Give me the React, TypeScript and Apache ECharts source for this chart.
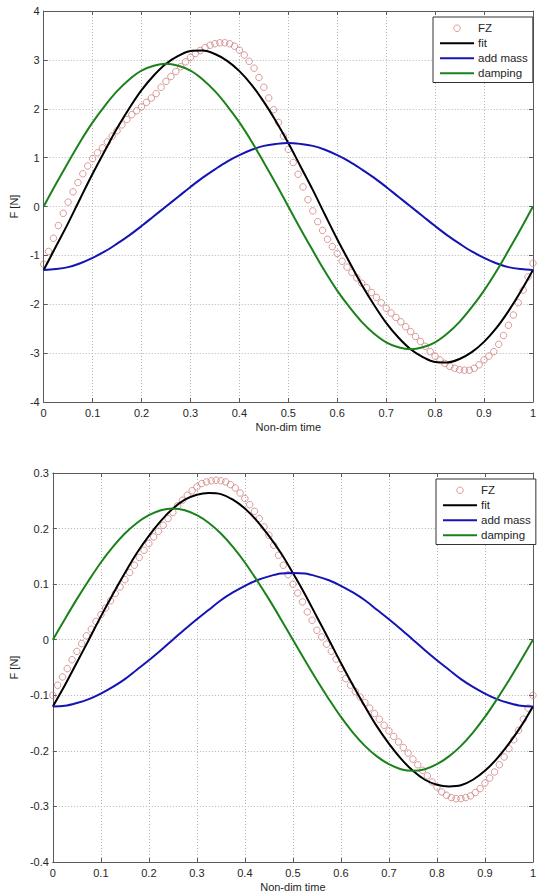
import React, { useEffect, useRef } from "react";
import * as echarts from "echarts";

// ---------- data ----------
const TIME_LINE = [0, 0.025, 0.05, 0.075, 0.1, 0.125, 0.15, 0.175, 0.2, 0.225, 0.25, 0.275, 0.3, 0.325, 0.35, 0.375, 0.4, 0.425, 0.45, 0.475, 0.5, 0.525, 0.55, 0.575, 0.6, 0.625, 0.65, 0.675, 0.7, 0.725, 0.75, 0.775, 0.8, 0.825, 0.85, 0.875, 0.9, 0.925, 0.95, 0.975, 1];

const TIME_FZ = [0, 0.01, 0.02, 0.03, 0.04, 0.05, 0.06, 0.07, 0.08, 0.09, 0.1, 0.11, 0.12, 0.13, 0.14, 0.15, 0.16, 0.17, 0.18, 0.19, 0.2, 0.21, 0.22, 0.23, 0.24, 0.25, 0.26, 0.27, 0.28, 0.29, 0.3, 0.31, 0.32, 0.33, 0.34, 0.35, 0.36, 0.37, 0.38, 0.39, 0.4, 0.41, 0.42, 0.43, 0.44, 0.45, 0.46, 0.47, 0.48, 0.49, 0.5, 0.51, 0.52, 0.53, 0.54, 0.55, 0.56, 0.57, 0.58, 0.59, 0.6, 0.61, 0.62, 0.63, 0.64, 0.65, 0.66, 0.67, 0.68, 0.69, 0.7, 0.71, 0.72, 0.73, 0.74, 0.75, 0.76, 0.77, 0.78, 0.79, 0.8, 0.81, 0.82, 0.83, 0.84, 0.85, 0.86, 0.87, 0.88, 0.89, 0.9, 0.91, 0.92, 0.93, 0.94, 0.95, 0.96, 0.97, 0.98, 0.99, 1];

// top panel
const TOP_FZ = [-1.18, -0.92, -0.65, -0.39, -0.14, 0.09, 0.30, 0.49, 0.67, 0.83, 0.98, 1.10, 1.20, 1.32, 1.44, 1.55, 1.67, 1.78, 1.88, 1.96, 2.04, 2.13, 2.22, 2.31, 2.44, 2.56, 2.66, 2.76, 2.86, 2.96, 3.05, 3.13, 3.19, 3.25, 3.30, 3.33, 3.35, 3.35, 3.33, 3.28, 3.20, 3.10, 2.97, 2.83, 2.64, 2.44, 2.22, 1.98, 1.72, 1.44, 1.17, 0.90, 0.66, 0.40, 0.14, -0.09, -0.31, -0.49, -0.67, -0.82, -0.96, -1.12, -1.24, -1.35, -1.46, -1.57, -1.66, -1.76, -1.86, -1.97, -2.08, -2.18, -2.27, -2.36, -2.46, -2.56, -2.66, -2.76, -2.86, -2.97, -3.06, -3.14, -3.21, -3.27, -3.31, -3.34, -3.35, -3.35, -3.31, -3.24, -3.14, -3.06, -2.97, -2.82, -2.64, -2.43, -2.22, -1.97, -1.71, -1.44, -1.16];
const TOP_FIT = [-1.30, -0.82, -0.34, 0.17, 0.67, 1.14, 1.60, 2.01, 2.38, 2.68, 2.92, 3.08, 3.18, 3.19, 3.12, 2.98, 2.77, 2.49, 2.14, 1.74, 1.30, 0.82, 0.34, -0.17, -0.67, -1.14, -1.60, -2.01, -2.38, -2.68, -2.92, -3.08, -3.18, -3.19, -3.12, -2.98, -2.77, -2.49, -2.14, -1.74, -1.30];
const TOP_ADD_MASS = [-1.30, -1.28, -1.24, -1.16, -1.05, -0.92, -0.76, -0.59, -0.40, -0.20, 0.00, 0.20, 0.40, 0.59, 0.76, 0.92, 1.05, 1.16, 1.24, 1.28, 1.30, 1.28, 1.24, 1.16, 1.05, 0.92, 0.76, 0.59, 0.40, 0.20, 0.00, -0.20, -0.40, -0.59, -0.76, -0.92, -1.05, -1.16, -1.24, -1.28, -1.30];
const TOP_DAMPING = [0, 0.46, 0.90, 1.33, 1.72, 2.06, 2.36, 2.60, 2.78, 2.88, 2.92, 2.88, 2.78, 2.60, 2.36, 2.06, 1.72, 1.33, 0.90, 0.46, 0, -0.46, -0.90, -1.33, -1.72, -2.06, -2.36, -2.60, -2.78, -2.88, -2.92, -2.88, -2.78, -2.60, -2.36, -2.06, -1.72, -1.33, -0.90, -0.46, 0];

// bottom panel
const BOT_FZ = [-0.100, -0.082, -0.067, -0.052, -0.036, -0.021, -0.007, 0.007, 0.019, 0.033, 0.045, 0.057, 0.070, 0.083, 0.095, 0.108, 0.121, 0.134, 0.148, 0.161, 0.173, 0.185, 0.195, 0.206, 0.218, 0.229, 0.241, 0.251, 0.260, 0.268, 0.275, 0.281, 0.284, 0.286, 0.287, 0.286, 0.284, 0.279, 0.273, 0.264, 0.254, 0.243, 0.231, 0.218, 0.203, 0.188, 0.170, 0.152, 0.134, 0.117, 0.100, 0.084, 0.068, 0.050, 0.035, 0.017, 0.005, -0.008, -0.021, -0.035, -0.052, -0.070, -0.082, -0.093, -0.103, -0.113, -0.123, -0.133, -0.143, -0.154, -0.164, -0.174, -0.184, -0.194, -0.204, -0.215, -0.225, -0.235, -0.245, -0.256, -0.265, -0.274, -0.280, -0.284, -0.286, -0.286, -0.284, -0.281, -0.275, -0.268, -0.258, -0.249, -0.238, -0.225, -0.211, -0.196, -0.180, -0.163, -0.143, -0.123, -0.100];
const BOT_FIT = [-0.120, -0.082, -0.041, 0.000, 0.042, 0.082, 0.120, 0.156, 0.187, 0.214, 0.236, 0.252, 0.261, 0.264, 0.262, 0.252, 0.236, 0.214, 0.187, 0.156, 0.120, 0.082, 0.041, 0.000, -0.042, -0.082, -0.120, -0.156, -0.187, -0.214, -0.236, -0.252, -0.261, -0.264, -0.262, -0.252, -0.236, -0.214, -0.187, -0.156, -0.120];
const BOT_ADD_MASS = [-0.120, -0.119, -0.114, -0.107, -0.097, -0.085, -0.071, -0.054, -0.037, -0.019, 0, 0.019, 0.037, 0.054, 0.071, 0.085, 0.097, 0.107, 0.114, 0.119, 0.120, 0.119, 0.114, 0.107, 0.097, 0.085, 0.071, 0.054, 0.037, 0.019, 0, -0.019, -0.037, -0.054, -0.071, -0.085, -0.097, -0.107, -0.114, -0.119, -0.120];
const BOT_DAMPING = [0, 0.037, 0.073, 0.107, 0.139, 0.167, 0.191, 0.210, 0.224, 0.233, 0.236, 0.233, 0.224, 0.210, 0.191, 0.167, 0.139, 0.107, 0.073, 0.037, 0, -0.037, -0.073, -0.107, -0.139, -0.167, -0.191, -0.210, -0.224, -0.233, -0.236, -0.233, -0.224, -0.210, -0.191, -0.167, -0.139, -0.107, -0.073, -0.037, 0];

const SERIES_NAMES = ["FZ", "fit", "add mass", "damping"];
const X_NAME = "Non-dim time";
const Y_NAME = "F [N]";
const TOP_Y = { min: -4, max: 4, interval: 1 };
const BOT_Y = { min: -0.4, max: 0.3, interval: 0.1 };

// ---------- styling ----------
const FONT = "'Liberation Sans', Arial, Helvetica, sans-serif";
const TEXT = "#262626";
const AXIS = "#5a5a5a";
const C_FZ = "#cc7474";
const C_FIT = "#000000";
const C_AM = "#1414b4";
const C_DAMP = "#1b821b";

const fmt = (v: number) => (Math.abs(v) < 1e-9 ? "0" : String(parseFloat(v.toFixed(2))));
const pairs = (xs: number[], ys: number[]) => xs.map((x, i) => [x, ys[i]]);

function xAxes(gridIndex: number) {
  const common = {
    type: "value", gridIndex, min: 0, max: 1, interval: 0.1,
    axisLine: { show: true, onZero: false, lineStyle: { color: AXIS, width: 1 } },
    axisTick: { show: true, inside: true, length: 4, lineStyle: { color: AXIS } },
  };
  return [
    {
      ...common, position: "bottom",
      axisLabel: { margin: 5, fontSize: 11, color: TEXT, fontFamily: FONT, formatter: fmt },
      splitLine: { show: true, lineStyle: { type: [1, 2], color: "#b4b4b4", width: 1 } },
      name: X_NAME, nameLocation: "middle", nameGap: 19,
      nameTextStyle: { fontSize: 11, color: TEXT, fontFamily: FONT },
    },
    { ...common, position: "top", axisLabel: { show: false }, splitLine: { show: false } },
  ];
}

function yAxes(gridIndex: number, r: { min: number; max: number; interval: number }, nameGap: number) {
  const common = {
    type: "value", gridIndex, min: r.min, max: r.max, interval: r.interval,
    axisLine: { show: true, onZero: false, lineStyle: { color: AXIS, width: 1 } },
    axisTick: { show: true, inside: true, length: 4, lineStyle: { color: AXIS } },
  };
  return [
    {
      ...common, position: "left",
      axisLabel: { margin: 4, fontSize: 11, color: TEXT, fontFamily: FONT, formatter: fmt },
      splitLine: { show: true, lineStyle: { type: [1, 2], color: "#b4b4b4", width: 1 } },
      name: Y_NAME, nameLocation: "middle", nameGap,
      nameTextStyle: { fontSize: 11, color: TEXT, fontFamily: FONT },
    },
    { ...common, position: "right", axisLabel: { show: false }, splitLine: { show: false } },
  ];
}

function seriesFor(axisIndex: number, fz: number[], fit: number[], am: number[], damp: number[]) {
  const line = (name: string, ys: number[], color: string) => ({
    name, type: "line", xAxisIndex: axisIndex, yAxisIndex: axisIndex,
    data: pairs(TIME_LINE, ys), showSymbol: false, symbol: "none", smooth: 0.35,
    lineStyle: { color, width: 2 }, itemStyle: { color },
  });
  return [
    {
      name: SERIES_NAMES[0], type: "scatter", xAxisIndex: axisIndex, yAxisIndex: axisIndex,
      data: pairs(TIME_FZ, fz), symbol: "circle", symbolSize: 6.5,
      itemStyle: { color: "rgba(255,255,255,0)", borderColor: C_FZ, borderWidth: 0.9 },
    },
    line(SERIES_NAMES[1], fit, C_FIT),
    line(SERIES_NAMES[2], am, C_AM),
    line(SERIES_NAMES[3], damp, C_DAMP),
  ];
}

function legend(left: number, top: number) {
  return {
    orient: "vertical", left, top,
    data: SERIES_NAMES.map((name, i) =>
      i === 0
        ? { name, itemStyle: { borderWidth: 0.9, borderColor: C_FZ, color: "rgba(255,255,255,0)" } }
        : { name, itemStyle: { opacity: 0 } }
    ),
    itemWidth: 34, itemHeight: 6.5, itemGap: 2.5,
    padding: [5, 5, 3, 6],
    backgroundColor: "#ffffff", borderColor: "#333333", borderWidth: 1, borderRadius: 0,
    textStyle: { fontSize: 11.5, lineHeight: 12.5, color: TEXT, fontFamily: FONT, padding: [0, 0, 0, -1] },
    selectedMode: false,
  };
}

export default function App() {
  const ref = useRef<HTMLDivElement>(null);
  useEffect(() => {
    document.body.style.margin = "0";
    const chart = echarts.init(ref.current!, null, { renderer: "svg" });
    chart.setOption({
      animation: false,
      backgroundColor: "#ffffff",
      grid: [
        { left: 40, top: 11, width: 496, height: 391 },
        { left: 47, top: 473, width: 490, height: 389 },
      ],
      xAxis: [...xAxes(0), ...xAxes(1)],
      yAxis: [...yAxes(0, TOP_Y, 14), ...yAxes(1, BOT_Y, 25)],
      legend: [legend(433, 17), legend(436, 479)],
      series: [
        ...seriesFor(0, TOP_FZ, TOP_FIT, TOP_ADD_MASS, TOP_DAMPING),
        ...seriesFor(2, BOT_FZ, BOT_FIT, BOT_ADD_MASS, BOT_DAMPING),
      ],
    });
    return () => chart.dispose();
  }, []);
  return <div ref={ref} style={{ width: 539, height: 896, background: "#fff" }} />;
}
